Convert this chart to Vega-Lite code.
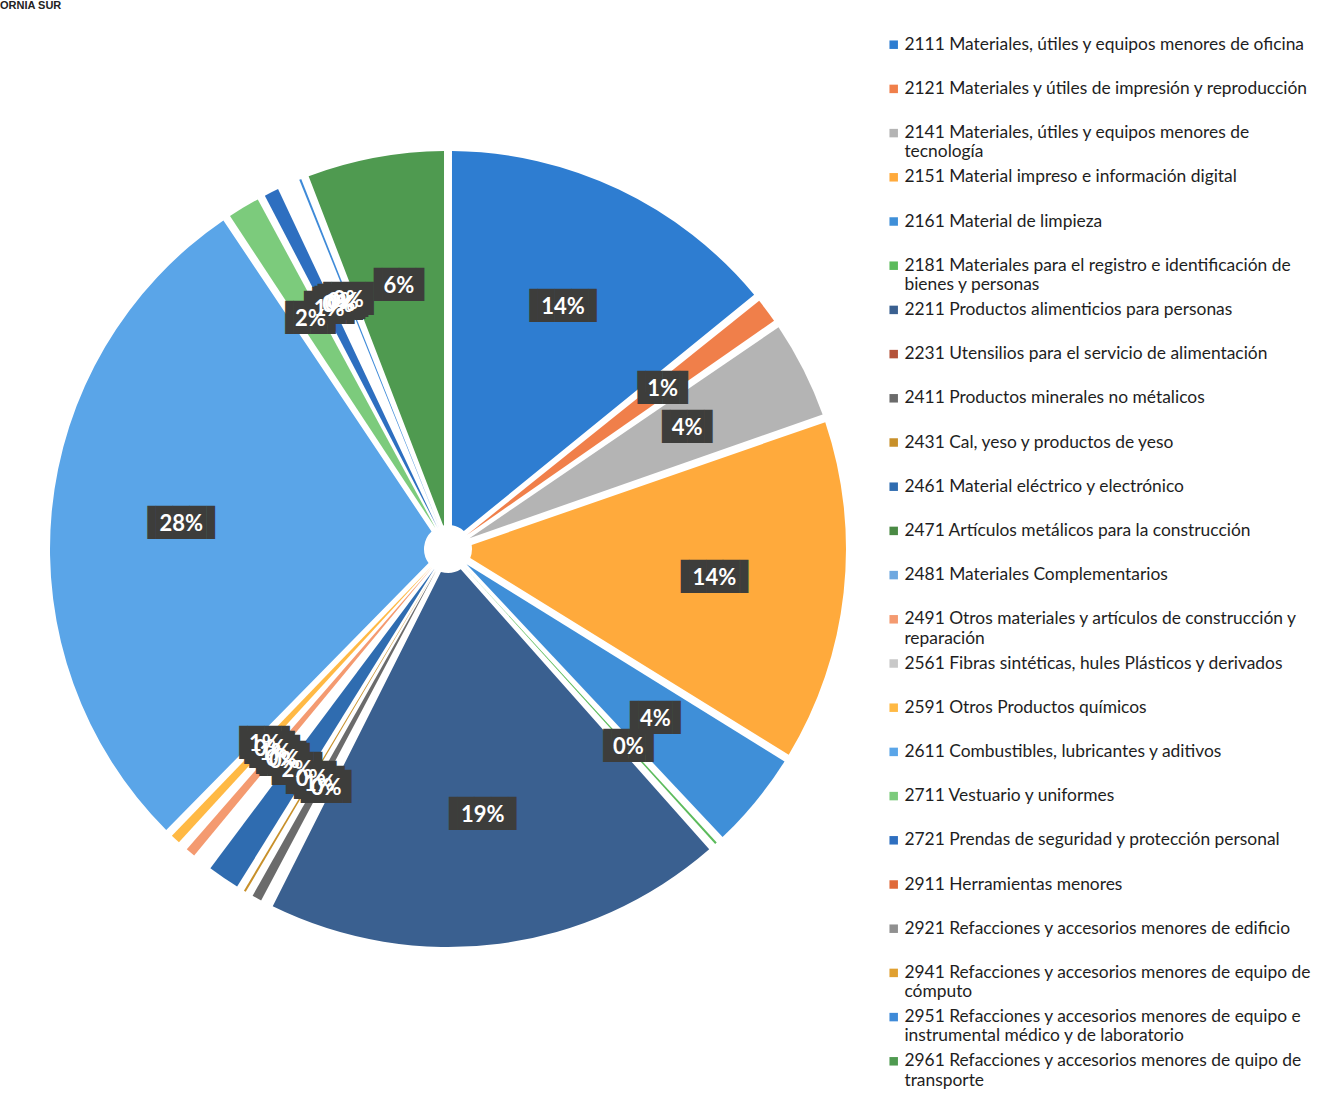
{
  "$schema": "https://vega.github.io/schema/vega-lite/v6.json",
  "width": 896,
  "height": 1070,
  "padding": 0,
  "background": "white",
  "title": {"text": "ORNIA SUR", "anchor": "start", "frame": "bounds", "fontSize": 11, "font": "Liberation Sans", "fontWeight": "bold", "color": "#222222", "offset": 3},
  "data": {
    "values": [
      {"code": 2111, "name": "2111 Materiales, útiles y equipos menores de oficina", "value": 0.140},
      {"code": 2121, "name": "2121 Materiales y útiles de impresión y reproducción", "value": 0.013},
      {"code": 2141, "name": "2141 Materiales, útiles y equipos menores de|tecnología", "value": 0.042},
      {"code": 2151, "name": "2151 Material impreso e información digital", "value": 0.140},
      {"code": 2161, "name": "2161 Material de limpieza", "value": 0.042},
      {"code": 2181, "name": "2181 Materiales para el registro e identificación de|bienes y personas", "value": 0.004},
      {"code": 2211, "name": "2211 Productos alimenticios para personas", "value": 0.188},
      {"code": 2231, "name": "2231 Utensilios para el servicio de alimentación", "value": 0.002},
      {"code": 2411, "name": "2411 Productos minerales no métalicos", "value": 0.007},
      {"code": 2431, "name": "2431 Cal, yeso y productos de yeso", "value": 0.004},
      {"code": 2461, "name": "2461 Material eléctrico y electrónico", "value": 0.016},
      {"code": 2471, "name": "2471 Artículos metálicos para la construcción", "value": 0.002},
      {"code": 2481, "name": "2481 Materiales Complementarios", "value": 0.003},
      {"code": 2491, "name": "2491 Otros materiales y artículos de construcción y|reparación", "value": 0.007},
      {"code": 2561, "name": "2561 Fibras sintéticas, hules  Plásticos y derivados", "value": 0.001},
      {"code": 2591, "name": "2591 Otros Productos químicos", "value": 0.007},
      {"code": 2611, "name": "2611 Combustibles, lubricantes y aditivos", "value": 0.280},
      {"code": 2711, "name": "2711 Vestuario y uniformes", "value": 0.016},
      {"code": 2721, "name": "2721 Prendas de seguridad y protección personal", "value": 0.009},
      {"code": 2911, "name": "2911 Herramientas menores", "value": 0.002},
      {"code": 2921, "name": "2921 Refacciones y accesorios menores de edificio", "value": 0.001},
      {"code": 2941, "name": "2941 Refacciones y accesorios menores de equipo de|cómputo", "value": 0.003},
      {"code": 2951, "name": "2951 Refacciones y accesorios menores de equipo e|instrumental médico y de laboratorio", "value": 0.004},
      {"code": 2961, "name": "2961 Refacciones y accesorios menores de quipo de|transporte", "value": 0.058}
    ]
  },
  "encoding": {
    "theta": {"field": "value", "type": "quantitative", "stack": true},
    "order": {"field": "code", "type": "quantitative"},
    "detail": {"field": "name", "type": "nominal"}
  },
  "layer": [
    {
      "mark": {"type": "arc", "outerRadius": 398, "innerRadius": 24, "padAngle": 0.02},
      "encoding": {
        "color": {
          "field": "name",
          "type": "nominal",
          "scale": {
            "domain": [
              "2111 Materiales, útiles y equipos menores de oficina",
              "2121 Materiales y útiles de impresión y reproducción",
              "2141 Materiales, útiles y equipos menores de|tecnología",
              "2151 Material impreso e información digital",
              "2161 Material de limpieza",
              "2181 Materiales para el registro e identificación de|bienes y personas",
              "2211 Productos alimenticios para personas",
              "2231 Utensilios para el servicio de alimentación",
              "2411 Productos minerales no métalicos",
              "2431 Cal, yeso y productos de yeso",
              "2461 Material eléctrico y electrónico",
              "2471 Artículos metálicos para la construcción",
              "2481 Materiales Complementarios",
              "2491 Otros materiales y artículos de construcción y|reparación",
              "2561 Fibras sintéticas, hules  Plásticos y derivados",
              "2591 Otros Productos químicos",
              "2611 Combustibles, lubricantes y aditivos",
              "2711 Vestuario y uniformes",
              "2721 Prendas de seguridad y protección personal",
              "2911 Herramientas menores",
              "2921 Refacciones y accesorios menores de edificio",
              "2941 Refacciones y accesorios menores de equipo de|cómputo",
              "2951 Refacciones y accesorios menores de equipo e|instrumental médico y de laboratorio",
              "2961 Refacciones y accesorios menores de quipo de|transporte"
            ],
            "range": ["#2e7dd1", "#f07f4a", "#b4b4b4", "#ffaa3c", "#3f8fd8", "#5cbb5c", "#3a6090", "#b5533a", "#6b6b6b", "#c8902a", "#2f6cb0", "#4a8a44", "#6fa8e0", "#f49a70", "#c8c8c8", "#ffb944", "#5aa5e8", "#7ccb7c", "#2e6fc0", "#e06a3a", "#909090", "#e0a030", "#3e8ad8", "#4f9a50"]
          },
          "legend": {
            "title": null,
            "orient": "none",
            "legendX": 885,
            "legendY": 22,
            "padding": 0,
            "symbolType": "square",
            "symbolSize": 72,
            "symbolStrokeWidth": 0,
            "labelFont": "Lato",
            "labelFontSize": 17.4,
            "labelColor": "#1e1e1e",
            "labelLimit": 600,
            "labelOffset": 2,
            "labelBaseline": "middle",
            "rowPadding": 6.2,
            "gridAlign": "all",
            "labelExpr": "split(datum.label, '|')"
          }
        }
      }
    },
    {
      "mark": {"type": "text", "radius": 268, "font": "DejaVu Sans Mono", "fontSize": 28, "color": "#3d3d3b", "baseline": "middle", "align": "center"},
      "encoding": {
        "text": {"condition": {"test": "datum.value >= 0.095", "value": "▐███▌"}, "value": "▐██▌"}
      }
    },
    {
      "mark": {"type": "text", "radius": 268, "font": "Lato", "fontWeight": "bold", "fontSize": 22, "color": "white", "baseline": "middle", "align": "center"},
      "encoding": {
        "text": {"field": "value", "type": "quantitative", "format": ".0%"}
      }
    }
  ]
}
